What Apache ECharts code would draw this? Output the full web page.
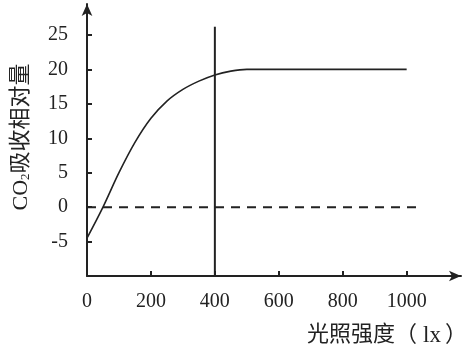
<!DOCTYPE html>
<html>
<head>
<meta charset="utf-8">
<script src="https://cdn.jsdelivr.net/npm/echarts@6/dist/echarts.min.js"></script>
<style>html,body{margin:0;padding:0;background:#fff;}#c{width:464px;height:349px;}</style>
</head>
<body>
<div id="c"></div>
<script>
// Data
var curveX = [0, 50, 100, 150, 200, 250, 300, 350, 400, 450, 500, 600, 800, 1000];
var curveY = [-4.5, 0, 5.0, 9.4, 12.9, 15.4, 17.1, 18.3, 19.2, 19.75, 20, 20, 20, 20];
var zeroLineX = [0, 1040];
var zeroLineY = [0, 0];
var vLineX = [400, 400];
var vLineY = [-10, 26.2];
var xTickValues = [200, 400, 600, 800, 1000];
var xLabelValues = [0, 200, 400, 600, 800, 1000];
var yTickValues = [-5, 0, 5, 10, 15, 20, 25];
var yAxisName = 'CO{sub|2}吸收相对量';
var xAxisName = '光照强度（{lx|lx}）';

function zip(a, b) { return a.map(function (v, i) { return [v, b[i]]; }); }

var fontFam = '"Liberation Serif", "Noto Sans CJK SC", serif';
var ink = '#222';

var chart = echarts.init(document.getElementById('c'));
chart.setOption({
  animation: false,
  backgroundColor: '#fff',
  grid: { left: 87, right: 3, top: 4, bottom: 73, containLabel: false, outerBoundsMode: 'none' },
  xAxis: {
    type: 'value', min: 0, max: 1170,
    splitLine: { show: false },
    axisLine: { onZero: false, lineStyle: { color: ink, width: 2 }, symbol: ['none', 'arrow'], symbolSize: [8, 12] },
    axisTick: { inside: true, length: 5, lineStyle: { color: ink, width: 2 }, customValues: xTickValues },
    axisLabel: { customValues: xLabelValues, color: ink, fontFamily: fontFam, fontSize: 20, margin: 16,
      formatter: function (v) { return String(v); } },
    name: xAxisName, nameLocation: 'end', nameGap: 6,
    nameTextStyle: { color: ink, fontFamily: fontFam, fontSize: 22, align: 'right', verticalAlign: 'top', padding: [48, 0, 0, 0],
      rich: { lx: { fontFamily: fontFam, fontSize: 23, color: ink, padding: [0, 4, 0, 6] } } }
  },
  yAxis: {
    type: 'value', min: -10, max: 29.5,
    splitLine: { show: false },
    axisLine: { onZero: false, lineStyle: { color: ink, width: 2 }, symbol: ['none', 'arrow'], symbolSize: [8, 12] },
    axisTick: { inside: true, length: 5, lineStyle: { color: ink, width: 2 }, customValues: yTickValues },
    axisLabel: { customValues: yTickValues, color: ink, fontFamily: fontFam, fontSize: 20, margin: 19 },
    name: yAxisName, nameLocation: 'middle', nameGap: 55, nameRotate: 90,
    nameTextStyle: {
      color: ink, fontFamily: fontFam, fontSize: 22, padding: [0, 0, 0, 6],
      rich: { sub: { fontFamily: fontFam, fontSize: 13, color: ink, verticalAlign: 'bottom', padding: [8, 0, 0, 0] } }
    }
  },
  series: [
    { type: 'line', data: zip(curveX, curveY), smooth: 0.35, showSymbol: false,
      lineStyle: { color: ink, width: 1.6 }, z: 3 },
    { type: 'line', data: zip(zeroLineX, zeroLineY), showSymbol: false,
      lineStyle: { color: ink, width: 2, type: [9, 7] } },
    { type: 'line', data: zip(vLineX, vLineY), showSymbol: false,
      lineStyle: { color: ink, width: 2 } }
  ]
});
</script>
</body>
</html>
